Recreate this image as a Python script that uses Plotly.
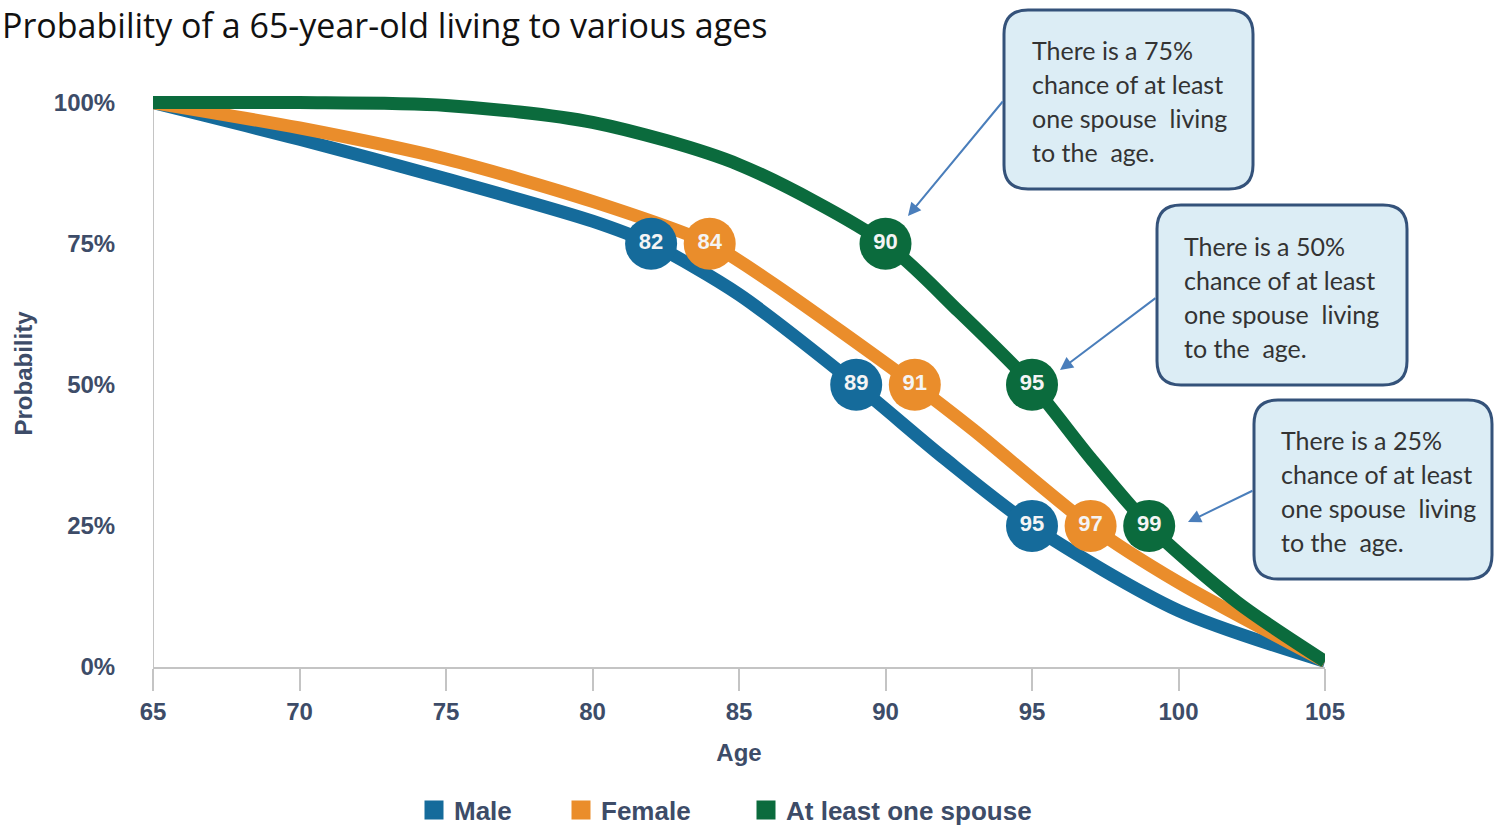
import plotly.graph_objects as go

# ---- data ---------------------------------------------------------------
series_names = ["Male", "Female", "At least one spouse"]
series_colors = ["#156b9b", "#ea8d2b", "#0b6b3d"]

# survival curves: age -> probability (%) of still being alive
male_ages = [65, 70, 75, 80, 82, 85, 89, 92, 95, 100, 105]
male_prob = [100, 93.5, 86.5, 79, 75, 66, 50, 37, 25, 10, 1]

female_ages = [65, 70, 75, 80, 84, 86, 91, 93, 97, 100, 105]
female_prob = [100, 95.5, 90, 82.5, 75, 68.5, 50, 42, 25, 15, 1]

spouse_ages = [65, 70, 75, 80, 85, 90, 92.5, 95, 97, 99, 102, 105]
spouse_prob = [100, 100, 99.5, 96.5, 89, 75, 63, 50, 37, 25, 11.5, 1]

# ages at which each curve crosses 75%, 50% and 25%
milestone_prob = [75, 50, 25]
male_milestones = [82, 89, 95]
female_milestones = [84, 91, 97]
spouse_milestones = [90, 95, 99]

age_ticks = [65, 70, 75, 80, 85, 90, 95, 100, 105]
prob_ticks = [0, 25, 50, 75, 100]
prob_tick_labels = ["0%", "25%", "50%", "75%", "100%"]

title_text = "Probability of a 65-year-old living to various ages"
callout_lines = [
    ["There is a 75%", "chance of at least", "one spouse  living", "to the  age."],
    ["There is a 50%", "chance of at least", "one spouse  living", "to the  age."],
    ["There is a 25%", "chance of at least", "one spouse  living", "to the  age."],
]

# ---- page geometry (pixels) ---------------------------------------------
WIDTH, HEIGHT = 1494, 834
L, R, T, B = 153, 169, 80, 167
PW, PH = WIDTH - L - R, HEIGHT - T - B


def paper(px, py):
    return (px - L) / PW, 1 - (py - T) / PH


def rounded_box(x0, y0, x1, y1, r):
    pts = [
        ("M", [(x0 + r, y0)]),
        ("L", [(x1 - r, y0)]),
        ("Q", [(x1, y0), (x1, y0 + r)]),
        ("L", [(x1, y1 - r)]),
        ("Q", [(x1, y1), (x1 - r, y1)]),
        ("L", [(x0 + r, y1)]),
        ("Q", [(x0, y1), (x0, y1 - r)]),
        ("L", [(x0, y0 + r)]),
        ("Q", [(x0, y0), (x0 + r, y0)]),
    ]
    parts = []
    for cmd, coords in pts:
        c = " ".join("%.5f,%.5f" % paper(px, py) for px, py in coords)
        parts.append(cmd + " " + c)
    return " ".join(parts) + " Z"


SANS = "Liberation Sans, Arial, sans-serif"
TICK_FONT = dict(family=SANS, size=24, color="#3d4c68", weight="bold")
TEXT_FONT = "Lato, Carlito, sans-serif"

fig = go.Figure()

curves = [
    (male_ages, male_prob, male_milestones),
    (female_ages, female_prob, female_milestones),
    (spouse_ages, spouse_prob, spouse_milestones),
]

for (ages, prob, miles), name, color in zip(curves, series_names, series_colors):
    fig.add_trace(go.Scatter(
        x=ages, y=prob, mode="lines", name=name, showlegend=False,
        line=dict(color=color, width=13, shape="spline", smoothing=0.8),
        hoverinfo="skip",
    ))

for (ages, prob, miles), name, color in zip(curves, series_names, series_colors):
    fig.add_trace(go.Scatter(
        x=miles, y=milestone_prob, mode="markers+text", name=name,
        showlegend=False, cliponaxis=False,
        marker=dict(size=52, color=color, line=dict(width=0)),
        text=[str(a) for a in miles], textposition="middle center",
        textfont=dict(family=SANS, size=22, color="#f4f4f4", weight="bold"),
    ))

# one legend per series so each entry sits at its own spot
legend_ids = ["legend", "legend2", "legend3"]
legend_left = [414, 561, 746]
for name, color, lid in zip(series_names, series_colors, legend_ids):
    fig.add_trace(go.Scatter(
        x=[None], y=[None], mode="markers", name=name, legend=lid,
        marker=dict(symbol="square", size=16, color=color,
                    line=dict(color=color, width=3)),
    ))

shapes = []
# vertical axis line
shapes.append(dict(type="line", xref="x", yref="y",
                   x0=age_ticks[0], x1=age_ticks[0], y0=prob_ticks[0], y1=prob_ticks[-1],
                   line=dict(color="#c4c4c4", width=2), layer="below"))

boxes = [(1004, 10, 1253, 189), (1157, 205, 1407, 385), (1254, 400, 1492, 579)]
for x0, y0, x1, y1 in boxes:
    shapes.append(dict(type="path", xref="paper", yref="paper",
                       path=rounded_box(x0, y0, x1, y1, 24),
                       fillcolor="#dcedf5", line=dict(color="#34527a", width=3)))

annotations = []
# chart title
tx, ty = paper(0, 0)
annotations.append(dict(xref="paper", yref="paper", x=tx, y=ty, xanchor="left",
                        yanchor="top", showarrow=False, text=title_text,
                        font=dict(family="Open Sans, sans-serif", size=34, color="#111111")))

text_left = [1030, 1182, 1279]
text_top = [50, 246, 440]
for lines, lx, ly in zip(callout_lines, text_left, text_top):
    for i, line in enumerate(lines):
        ax_, ay_ = paper(lx, ly + 34 * i)
        annotations.append(dict(xref="paper", yref="paper", x=ax_, y=ay_,
                                xanchor="left", yanchor="middle", showarrow=False,
                                text=line.replace("  ", "&nbsp; "),
                                font=dict(family=TEXT_FONT, size=25, color="#333333")))

# arrows from callouts to the curve
arrows = [((1004, 100), (908, 216)), ((1157, 297), (1060, 370)), ((1254, 490), (1188, 522))]
for (tx0, ty0), (hx, hy) in arrows:
    px_, py_ = paper(hx, hy)
    annotations.append(dict(xref="paper", yref="paper", x=px_, y=py_, text="",
                            showarrow=True, arrowhead=2, arrowsize=1.3, arrowwidth=2,
                            arrowcolor="#4a7ebb", ax=tx0 - hx, ay=ty0 - hy, standoff=0))

legend_style = dict(orientation="h", xanchor="left", yanchor="middle",
                    y=paper(0, 810)[1], bgcolor="rgba(0,0,0,0)",
                    font=dict(family=SANS, size=26, color="#3d4c68", weight="bold"),
                    itemclick=False, itemdoubleclick=False)

fig.update_layout(
    width=WIDTH, height=HEIGHT,
    margin=dict(l=L, r=R, t=T, b=B, autoexpand=False),
    paper_bgcolor="white", plot_bgcolor="white",
    shapes=shapes, annotations=annotations,
    showlegend=True,
    legend=dict(x=paper(legend_left[0], 0)[0], **legend_style),
    legend2=dict(x=paper(legend_left[1], 0)[0], **legend_style),
    legend3=dict(x=paper(legend_left[2], 0)[0], **legend_style),
    xaxis=dict(range=[65, 105], tickvals=age_ticks, ticktext=[str(a) for a in age_ticks],
               showgrid=False, zeroline=False, showline=True, linecolor="#c4c4c4",
               linewidth=2, ticks="outside", ticklen=22, tickwidth=2, tickcolor="#c4c4c4",
               tickfont=TICK_FONT,
               title=dict(text="Age", standoff=20, font=TICK_FONT)),
    yaxis=dict(range=[0, 104], tickvals=prob_ticks, ticktext=prob_tick_labels,
               showgrid=False, zeroline=False, showline=False,
               ticks="outside", ticklen=32, tickcolor="rgba(0,0,0,0)",
               tickfont=TICK_FONT,
               title=dict(text="Probability", standoff=14, font=TICK_FONT)),
)

fig.write_html("out.html")
